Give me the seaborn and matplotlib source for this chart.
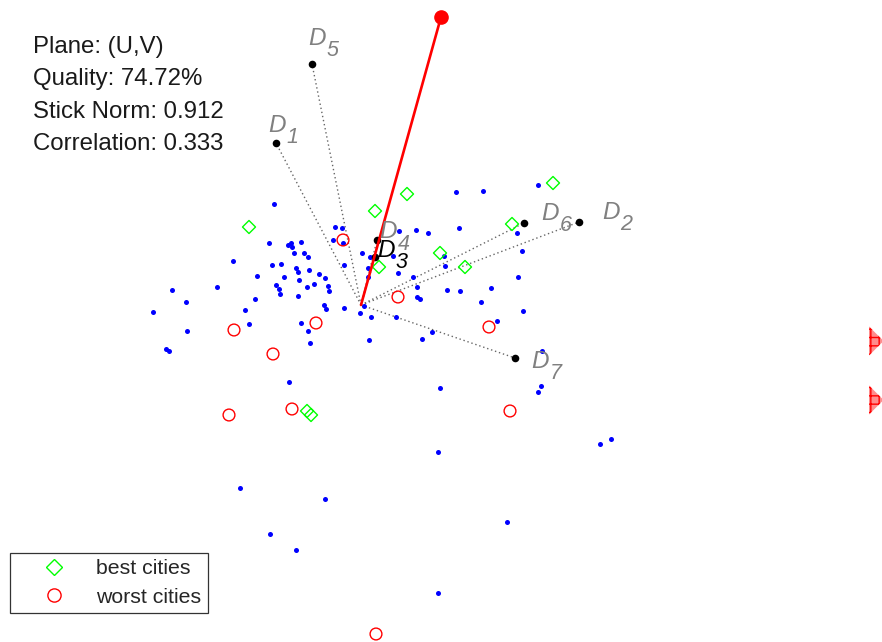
import matplotlib
matplotlib.use("Agg")
import matplotlib.pyplot as plt
from matplotlib.lines import Line2D
from matplotlib.patches import Rectangle
import pandas as pd
import seaborn as sns

# City scores projected on the (U,V) plane
city_u = [-1.28, -1.89, -1.44, -1.75, -2.08, -1.16, -1.12, -1.74, -1.95, -1.92,
          -0.92, -0.73, -0.70, -0.69, -0.60, -0.67, -0.57, -0.53, -0.89, -0.80,
          -0.65, -0.63, -0.52, -1.04, -0.77, -0.62, -0.42, -0.36, -0.85, -0.82,
          -0.81, -0.54, -0.47, -0.33, -0.32, -0.63, -1.06, -0.37, -0.35, -0.17,
          -0.60, -0.53, -0.26, -0.19, -0.28, -0.18, -0.17, -0.87, -0.51,
          0.01, 0.09, 0.07, 0.07, 0.03, -0.01, 0.10, 0.35, 0.08, 0.38,
          0.55, 0.67, 0.32, 0.37, 0.52, 0.56, 0.56, 0.59, 0.61, 0.71,
          0.95, 1.22, 1.77, 0.98, 1.56, 1.61, 0.83, 0.84, 1.57, 0.86,
          0.99, 1.30, 1.20, 1.62, 1.36, 1.81, 0.79, 1.80, 1.77, 2.39, 2.50,
          -0.72, 0.77, -1.21, -0.36, 1.46, -0.91, -0.65, 0.77]
city_v = [0.44, 0.15, 0.18, 0.03, -0.07, -0.05, -0.19, -0.26, -0.44, -0.46,
          0.62, 0.60, 0.62, 0.58, 0.63, 0.52, 0.52, 0.48, 0.40, 0.41,
          0.37, 0.33, 0.35, 0.29, 0.28, 0.25, 0.31, 0.27, 0.20, 0.16,
          0.11, 0.18, 0.21, 0.19, 0.14, 0.09, 0.06, 0.00, -0.04, -0.03,
          -0.18, -0.26, 0.78, 0.77, 0.65, 0.62, 0.40, 1.01, -0.38,
          0.52, 0.48, 0.37, 0.28, -0.01, -0.08, -0.12, -0.12, -0.35, 0.74,
          0.75, 0.72, 0.49, 0.32, 0.28, 0.18, 0.08, 0.06, -0.34, -0.27,
          1.13, 1.14, 1.20, 0.77, 0.72, 0.54, 0.49, 0.39, 0.28, 0.15,
          0.14, 0.17, 0.03, -0.06, -0.16, -0.46, -0.83, -0.81, -0.87, -1.39, -1.34,
          -0.77, -1.47, -1.83, -1.94, -2.17, -2.29, -2.45, -2.88]

best_u = [-1.12, 0.14, 0.46, 0.18, 0.79, 1.04, 1.51, 1.92, -0.54, -0.50]
best_v = [0.78, 0.94, 1.11, 0.38, 0.52, 0.38, 0.81, 1.22, -1.06, -1.10]

worst_u = [-0.18, 0.37, -0.45, -1.27, -0.88, 1.28, -1.32, -0.69, 1.49, 0.15]
worst_v = [0.65, 0.08, -0.18, -0.25, -0.49, -0.22, -1.10, -1.04, -1.06, -3.29]

# Variable directions D1..D7
var_ids = ["1", "2", "3", "4", "5", "6", "7"]
var_u = [-0.85, 2.18, 0.14, 0.16, -0.49, 1.63, 1.54]
var_v = [1.62, 0.83, 0.48, 0.65, 2.41, 0.82, -0.53]
var_colors = ["#808080", "#808080", "black", "#808080", "#808080", "#808080", "#808080"]

# Stick (response direction)
stick_u, stick_v = 0.80, 2.88

# Points lying beyond the right border
edge_u = [5.08, 5.08]
edge_v = [-0.36, -0.95]

info_lines = ["Plane: (U,V)", "Quality: 74.72%", "Stick Norm: 0.912", "Correlation: 0.333"]
legend_labels = ["best cities", "worst cities"]

sns.set_style("white")
plt.rcParams["font.family"] = ["Liberation Sans", "DejaVu Sans"]

fig = plt.figure(figsize=(8.82, 6.42), dpi=100)
ax = fig.add_axes([0, 0, 1, 1])
ax.set_xlim(-3.61, 5.21)
ax.set_ylim(-3.37, 3.05)
ax.axis("off")

cities = pd.DataFrame({"u": city_u, "v": city_v})
best = pd.DataFrame({"u": best_u, "v": best_v})
worst = pd.DataFrame({"u": worst_u, "v": worst_v})

# dotted rays from the origin to each variable
for u, v in zip(var_u, var_v):
    ax.plot([0, u], [0, v], linestyle=(0, (1, 2)), color="0.4", linewidth=1.0, zorder=1)

sns.scatterplot(data=cities, x="u", y="v", ax=ax, color="blue", s=13,
                linewidth=0, marker="o", zorder=2, legend=False)
sns.scatterplot(data=best, x="u", y="v", ax=ax, marker="D", s=44,
                facecolor="none", edgecolor="lime", linewidth=1.0, zorder=3, legend=False)
sns.scatterplot(data=worst, x="u", y="v", ax=ax, marker="o", s=72,
                facecolor="none", edgecolor="red", linewidth=1.0, zorder=3, legend=False)

# clipped markers at the right border
edge = ax.scatter(edge_u, edge_v, marker="D", s=220, facecolor=(1, 0.55, 0.55),
                  edgecolor="red", linewidth=0, hatch="++", zorder=3)
clip_rect = Rectangle((5.08, -4), 1.0, 8, transform=ax.transData)
edge.set_clip_path(clip_rect)

sns.scatterplot(x=var_u, y=var_v, ax=ax, color="black", s=30, linewidth=0,
                zorder=4, legend=False)

# stick
ax.plot([0, stick_u], [0, stick_v], color="red", linewidth=1.9, zorder=5)
ax.plot([stick_u], [stick_v], marker="o", color="red", markersize=9.5, zorder=5)

# variable labels
for k, u, v, c in zip(var_ids, var_u, var_v, var_colors):
    ax.annotate("D", xy=(1.1 * u, 1.1 * v), xytext=(0.7, -3.6), textcoords="offset points",
                ha="left", va="baseline", fontsize=17.5, fontstyle="italic", color=c, zorder=6)
    ax.annotate(k, xy=(1.1 * u, 1.1 * v), xytext=(13.8, -11.6), textcoords="offset points",
                ha="left", va="baseline", fontsize=15.5, fontstyle="italic", color=c, zorder=6)

# info block
baselines = [53, 85.5, 118, 150]
for line, b in zip(info_lines, baselines):
    ax.text(33 / 882, 1 - b / 642, line, transform=ax.transAxes, fontsize=17.3,
            ha="left", va="baseline", color="#1a1a1a")

handles = [
    Line2D([], [], linestyle="none", marker="D", markersize=8, markerfacecolor="none",
           markeredgecolor="lime", markeredgewidth=1.0),
    Line2D([], [], linestyle="none", marker="o", markersize=9.5, markerfacecolor="none",
           markeredgecolor="red", markeredgewidth=1.0),
]
leg = ax.legend(handles, legend_labels, loc="lower left", bbox_to_anchor=(10 / 882, 1 - 613 / 642),
                bbox_transform=ax.transAxes, borderaxespad=0, fontsize=15.3, frameon=True,
                fancybox=False, framealpha=1, edgecolor="0.2", borderpad=0.3,
                handlelength=3.5, handletextpad=0.25, labelspacing=0.45)
leg.get_frame().set_linewidth(0.9)

fig.savefig("out.png", dpi=100)
